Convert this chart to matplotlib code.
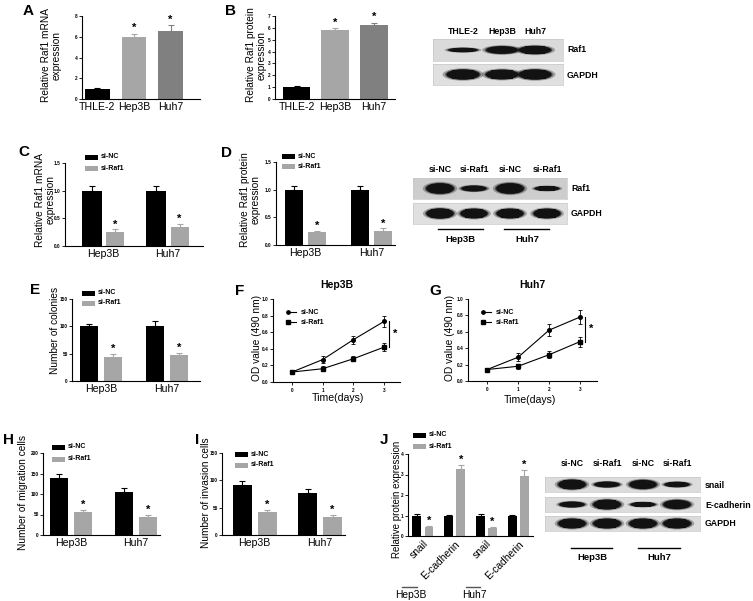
import matplotlib
matplotlib.use('Agg')
import matplotlib.pyplot as plt
from matplotlib.patches import Ellipse, Rectangle
from matplotlib.lines import Line2D
import numpy as np

plt.rcParams['font.family'] = ['Liberation Sans', 'DejaVu Sans']

# ---------------- data ----------------
a_cats = ['THLE-2', 'Hep3B', 'Huh7']
a_vals = [1.0, 5.95, 6.55]
a_errs = [0.08, 0.35, 0.55]
b_vals = [1.05, 5.8, 6.2]
b_errs = [0.05, 0.2, 0.25]

groups = ['Hep3B', 'Huh7']
series = ['si-NC', 'si-Raf1']

c_nc, c_nc_err = [1.0, 1.0], [0.08, 0.09]
c_raf, c_raf_err = [0.26, 0.35], [0.04, 0.05]
d_nc, d_nc_err = [1.0, 1.0], [0.06, 0.07]
d_raf, d_raf_err = [0.23, 0.26], [0.03, 0.04]
e_nc, e_nc_err = [100, 100], [5, 9]
e_raf, e_raf_err = [43, 47], [7, 5]

days = [0, 1, 2, 3]
f_nc, f_nc_err = [0.12, 0.27, 0.51, 0.73], [0.01, 0.04, 0.05, 0.07]
f_raf, f_raf_err = [0.12, 0.16, 0.28, 0.42], [0.01, 0.03, 0.03, 0.05]
g_nc, g_nc_err = [0.14, 0.29, 0.62, 0.78], [0.02, 0.05, 0.07, 0.08]
g_raf, g_raf_err = [0.14, 0.18, 0.32, 0.48], [0.02, 0.03, 0.04, 0.06]

h_nc, h_nc_err = [140, 105], [8, 9]
h_raf, h_raf_err = [55, 43], [6, 6]
i_nc, i_nc_err = [92, 76], [7, 8]
i_raf, i_raf_err = [42, 33], [4, 4]

j_cats = ['snail', 'E-cadherin', 'snail', 'E-cadherin']
j_nc, j_nc_err = [1.0, 1.0, 1.0, 1.0], [0.05, 0.04, 0.07, 0.03]
j_raf, j_raf_err = [0.45, 3.25, 0.4, 2.95], [0.03, 0.2, 0.03, 0.25]

# western blot band intensities (relative)
blotA_lanes = ['THLE-2', 'Hep3B', 'Huh7']
blotA_raf1 = [0.45, 0.8, 0.85]
blotA_gapdh = [0.95, 0.9, 0.95]
blotD_lanes = ['si-NC', 'si-Raf1', 'si-NC', 'si-Raf1']
blotD_raf1 = [1.0, 0.55, 1.0, 0.45]
blotD_gapdh = [0.95, 0.9, 0.9, 0.9]
blotJ_snail = [1.0, 0.6, 0.95, 0.55]
blotJ_ecad = [0.6, 1.0, 0.5, 0.95]
blotJ_gapdh = [1.0, 1.0, 1.0, 1.0]

BLACK = '#000000'
LGRAY = '#a6a6a6'
MGRAY = '#808080'

W, H = 753, 601
fig = plt.figure(figsize=(W / 100, H / 100), dpi=100)


def ax_px(x0, y0, x1, y1):
    return fig.add_axes([x0 / W, 1 - y1 / H, (x1 - x0) / W, (y1 - y0) / H])


def ftext(x, y, s, **kw):
    fig.text(x / W, 1 - y / H, s, **kw)


def fline(x0, x1, y0, y1, **kw):
    fig.add_artist(Line2D([x0 / W, x1 / W], [1 - y0 / H, 1 - y1 / H],
                          transform=fig.transFigure, **kw))


def style(ax, yticks, ylim, fmt=None):
    for s in ['top', 'right']:
        ax.spines[s].set_visible(False)
    for s in ['left', 'bottom']:
        ax.spines[s].set_linewidth(0.8)
    ax.set_ylim(*ylim)
    ax.set_yticks(yticks)
    if fmt:
        ax.set_yticklabels([fmt.format(v) for v in yticks])
    ax.tick_params(axis='y', labelsize=3.4, length=2, width=0.6, pad=1)
    ax.tick_params(axis='x', length=0, labelsize=7.6, pad=2)
    for t in ax.get_yticklabels():
        t.set_fontweight('bold')


def bars(ax, x, vals, errs, color, w, stars=False, fs=8, dy=0.0):
    ax.bar(x, vals, w, color=color, zorder=2)
    ax.errorbar(x, vals, yerr=[np.zeros(len(vals)), errs], fmt='none',
                ecolor=color, elinewidth=0.8, capsize=2, capthick=0.8, zorder=1)
    if stars:
        for xi, v, e in zip(x, vals, errs):
            ax.text(xi, v + e + dy, '*', ha='center', va='center',
                    fontsize=fs, fontweight='bold')


def bar_legend(x, y, dy, fs=5):
    for i, (lab, col) in enumerate(zip(series, [BLACK, LGRAY])):
        yy = y + i * dy
        fig.add_artist(Rectangle((x / W, 1 - (yy + 2.5) / H), 13 / W, 5 / H,
                                 transform=fig.transFigure, color=col, lw=0))
        ftext(x + 16, yy, lab, fontsize=fs, fontweight='bold', va='center')


def ylabel(text, xpx, ypx, fs=7.3):
    ftext(xpx, ypx, text, rotation=90, ha='center', va='center',
          fontsize=fs, multialignment='center', linespacing=1.05)


def letter(x, y, s):
    ftext(x, y, s, fontsize=11, fontweight='bold', ha='center', va='center')


def blot(x0, y0, x1, y1, lanes_x, intens, bg, bw=30, bh=9):
    ax = ax_px(x0, y0, x1, y1)
    ax.set_xlim(x0, x1)
    ax.set_ylim(y1, y0)
    ax.set_facecolor(bg)
    ax.set_xticks([])
    ax.set_yticks([])
    for s in ax.spines.values():
        s.set_color('#c8c8c8')
        s.set_linewidth(0.5)
    yc = (y0 + y1) / 2
    for lx, v in zip(lanes_x, intens):
        w = bw * (0.8 + 0.2 * v)
        h = bh * v
        for k, a in [(1.15, 0.3), (1.0, 0.6), (0.92, 1.0)]:
            ax.add_patch(Ellipse((lx, yc), w * k, h * k * 1.05,
                                 facecolor='#121212', alpha=a, lw=0))
        ax.add_patch(Rectangle((lx - w * 0.3, yc - h * 0.42), w * 0.6, h * 0.84,
                               facecolor='#121212', lw=0))
    return ax


# ---------------- A ----------------
ax = ax_px(82, 16, 200, 99)
x = np.arange(3)
ax.bar(x, a_vals, 0.68, color=[BLACK, LGRAY, MGRAY], zorder=2)
for xi, v, e, c in zip(x, a_vals, a_errs, [BLACK, LGRAY, MGRAY]):
    ax.errorbar([xi], [v], yerr=[[0], [e]], fmt='none', ecolor=c,
                elinewidth=0.8, capsize=2, capthick=0.8, zorder=1)
for xi in [1, 2]:
    ax.text(xi, a_vals[xi] + a_errs[xi] + 0.55, '*', ha='center', va='center',
            fontsize=8, fontweight='bold')
ax.set_xlim(-0.42, 2.8)
style(ax, [0, 2, 4, 6, 8], (0, 8))
ax.set_xticks(x)
ax.set_xticklabels(a_cats)
ylabel('Relative Raf1 mRNA\nexpression', 51, 55)
letter(28, 11, 'A')

# ---------------- B ----------------
ax = ax_px(275, 16, 395, 99)
ax.bar(x, b_vals, 0.72, color=[BLACK, LGRAY, MGRAY], zorder=2)
for xi, v, e, c in zip(x, b_vals, b_errs, [BLACK, LGRAY, MGRAY]):
    ax.errorbar([xi], [v], yerr=[[0], [e]], fmt='none', ecolor=c,
                elinewidth=0.8, capsize=2, capthick=0.8, zorder=1)
for xi in [1, 2]:
    ax.text(xi, b_vals[xi] + b_errs[xi] + 0.45, '*', ha='center', va='center',
            fontsize=8, fontweight='bold')
ax.set_xlim(-0.56, 2.55)
style(ax, list(range(8)), (0, 7))
ax.set_xticks(x)
ax.set_xticklabels(a_cats)
ylabel('Relative Raf1 protein\nexpression', 256, 55)
letter(231, 11, 'B')

# blot A
lanesA = [463, 502, 535]
for lx, lab in zip(lanesA, blotA_lanes):
    ftext(lx, 32, lab, fontsize=6.3, fontweight='bold', ha='center', va='center')
blot(433, 39, 563, 61, lanesA, blotA_raf1, '#dadada', bw=36, bh=10)
blot(433, 64, 563, 85, lanesA, blotA_gapdh, '#e0e0e0', bw=36, bh=11)
ftext(567, 50, 'Raf1', fontsize=6.3, fontweight='bold', va='center')
ftext(567, 75, 'GAPDH', fontsize=6.3, fontweight='bold', va='center')

# ---------------- C ----------------
xg = np.arange(2)
ax = ax_px(65, 163, 203, 246)
bars(ax, xg - 0.185, c_nc, c_nc_err, BLACK, 0.31)
bars(ax, xg + 0.185, c_raf, c_raf_err, LGRAY, 0.28, stars=True, dy=0.09)
ax.set_xlim(-0.6, 1.55)
style(ax, [0.0, 0.5, 1.0, 1.5], (0, 1.5), '{:.1f}')
ax.set_xticks(xg)
ax.set_xticklabels(groups)
bar_legend(85, 157, 11)
ylabel('Relative Raf1 mRNA\nexpression', 45, 200)
letter(24, 152, 'C')

# ---------------- D ----------------
ax = ax_px(276, 162, 395, 245)
bars(ax, xg - 0.175, d_nc, d_nc_err, BLACK, 0.27)
bars(ax, xg + 0.175, d_raf, d_raf_err, LGRAY, 0.27, stars=True, dy=0.09)
ax.set_xlim(-0.45, 1.36)
style(ax, [0.0, 0.5, 1.0, 1.5], (0, 1.5), '{:.1f}')
ax.set_xticks(xg)
ax.set_xticklabels(groups)
bar_legend(282, 156, 10)
ylabel('Relative Raf1 protein\nexpression', 250, 200)
letter(227, 153, 'D')

# blot D
lanesD = [440, 474, 510, 547]
for lx, lab in zip(lanesD, blotD_lanes):
    ftext(lx, 169, lab, fontsize=6.3, fontweight='bold', ha='center', va='center')
blot(413, 178, 567, 199, lanesD, blotD_raf1, '#cdcdcd', bw=30, bh=11)
blot(413, 203, 567, 224, lanesD, blotD_gapdh, '#e0e0e0', bw=30, bh=11)
ftext(571, 189, 'Raf1', fontsize=6.3, fontweight='bold', va='center')
ftext(571, 214, 'GAPDH', fontsize=6.3, fontweight='bold', va='center')
fline(438, 483, 229, 229, color='k', lw=1.0)
fline(504, 549, 229, 229, color='k', lw=1.0)
ftext(460, 240, 'Hep3B', fontsize=6.8, fontweight='bold', ha='center', va='center')
ftext(527, 240, 'Huh7', fontsize=6.8, fontweight='bold', ha='center', va='center')

# ---------------- E ----------------
ax = ax_px(72, 299, 200, 381)
bars(ax, xg - 0.185, e_nc, e_nc_err, BLACK, 0.28)
bars(ax, xg + 0.185, e_raf, e_raf_err, LGRAY, 0.28, stars=True, dy=9)
ax.set_xlim(-0.44, 1.5)
style(ax, [0, 50, 100, 150], (0, 150))
ax.set_xticks(xg)
ax.set_xticklabels(groups)
bar_legend(82, 293, 10)
ylabel('Number of colonies', 55, 330)
letter(35, 290, 'E')


# ---------------- F / G ----------------
def lineplot(ax, nc, nce, raf, rafe, title):
    ax.errorbar(days, nc, yerr=nce, color='k', marker='o', ms=2.6, lw=0.8,
                elinewidth=0.6, capsize=1.5, capthick=0.6)
    ax.errorbar(days, raf, yerr=rafe, color='k', marker='s', ms=2.6, lw=0.8,
                elinewidth=0.6, capsize=1.5, capthick=0.6)
    style(ax, [0, 0.2, 0.4, 0.6, 0.8, 1.0], (0, 1.0), '{:.1f}')
    ax.set_xticks(days)
    ax.tick_params(axis='x', length=2, width=0.6, labelsize=3.4, pad=2)
    for t in ax.get_xticklabels():
        t.set_fontweight('bold')
    ax.plot([3.16, 3.16], [raf[3], nc[3]], color='k', lw=0.8, clip_on=False)
    ax.text(3.35, (raf[3] + nc[3]) / 2, '*', fontsize=8, fontweight='bold',
            ha='center', va='center', clip_on=False)
    ax.set_title(title, fontsize=7.5, fontweight='bold', pad=8)


ax = ax_px(273, 299, 400, 382)
lineplot(ax, f_nc, f_nc_err, f_raf, f_raf_err, 'Hep3B')
ax.set_xlim(-0.62, 3.52)
ftext(338, 398, 'Time(days)', fontsize=7.6, ha='center', va='center')
ylabel('OD value (490 nm)', 257, 338)
letter(240, 291, 'F')

ax = ax_px(468, 299, 597, 381)
lineplot(ax, g_nc, g_nc_err, g_raf, g_raf_err, 'Huh7')
ax.set_xlim(-0.62, 3.55)
ftext(530, 400, 'Time(days)', fontsize=7.6, ha='center', va='center')
ylabel('OD value (490 nm)', 450, 338)
letter(435, 291, 'G')

for xl, yl in [(292, 312), (487, 312)]:
    for i, m in enumerate(['o', 's']):
        yy = yl + i * 10
        fig.add_artist(Line2D([(xl - 4) / W, (xl + 4) / W], [1 - yy / H, 1 - yy / H],
                              transform=fig.transFigure, color='k', lw=0.8,
                              marker=m, markevery=[0], ms=2.4))
        ftext(xl + 9, yy, series[i], fontsize=5, fontweight='bold', va='center')

# ---------------- H ----------------
ax = ax_px(43, 453, 160, 535)
bars(ax, xg - 0.19, h_nc, h_nc_err, BLACK, 0.28)
bars(ax, xg + 0.19, h_raf, h_raf_err, LGRAY, 0.28, stars=True, dy=12)
ax.set_xlim(-0.43, 1.37)
style(ax, [0, 50, 100, 150, 200], (0, 200))
ax.set_xticks(xg)
ax.set_xticklabels(groups)
bar_legend(52, 447, 12)
ylabel('Number of migration cells', 23, 493)
letter(9, 440, 'H')

# ---------------- I ----------------
ax = ax_px(222, 453, 345, 535)
bars(ax, xg - 0.19, i_nc, i_nc_err, BLACK, 0.29)
bars(ax, xg + 0.19, i_raf, i_raf_err, LGRAY, 0.29, stars=True, dy=9)
ax.set_xlim(-0.5, 1.38)
style(ax, [0, 50, 100, 150], (0, 150))
ax.set_xticks(xg)
ax.set_xticklabels(groups)
bar_legend(235, 454, 11)
ylabel('Number of invasion cells', 206, 493)
letter(197, 440, 'I')

# ---------------- J ----------------
xj = np.arange(4)
ax = ax_px(408, 454, 533, 536)
bars(ax, xj - 0.19, j_nc, j_nc_err, BLACK, 0.28)
bars(ax, xj + 0.19, j_raf, j_raf_err, LGRAY, 0.28, stars=True, dy=0.28)
ax.set_xlim(-0.47, 3.46)
style(ax, [0, 1, 2, 3, 4], (0, 4))
ax.set_xticks(xj)
ax.set_xticklabels(j_cats, rotation=45, ha='right', rotation_mode='anchor')
ax.tick_params(axis='x', labelsize=7.4, pad=2)
bar_legend(413, 435, 11)
ylabel('Relative protein expression', 397, 499, fs=7.0)
letter(384, 440, 'J')
fline(402, 417, 587, 587, color='#555555', lw=1.0)
fline(466, 480, 587, 587, color='#555555', lw=1.0)
ftext(411, 595, 'Hep3B', fontsize=7.4, ha='center', va='center')
ftext(474, 595, 'Huh7', fontsize=7.4, ha='center', va='center')

# blot J
lanesJ = [572, 607, 643, 677]
for lx, lab in zip(lanesJ, blotD_lanes):
    ftext(lx, 463, lab, fontsize=6.3, fontweight='bold', ha='center', va='center')
blot(545, 477, 700, 492, lanesJ, blotJ_snail, '#dcdcdc', bw=30, bh=10)
blot(545, 497, 700, 512, lanesJ, blotJ_ecad, '#dcdcdc', bw=30, bh=10)
blot(545, 516, 700, 531, lanesJ, blotJ_gapdh, '#dcdcdc', bw=30, bh=10)
ftext(705, 485, 'snail', fontsize=6.3, fontweight='bold', va='center')
ftext(705, 505, 'E-cadherin', fontsize=6.3, fontweight='bold', va='center')
ftext(705, 524, 'GAPDH', fontsize=6.3, fontweight='bold', va='center')
fline(571, 612, 548, 548, color='k', lw=1.0)
fline(638, 680, 548, 548, color='k', lw=1.0)
ftext(592, 558, 'Hep3B', fontsize=6.8, fontweight='bold', ha='center', va='center')
ftext(659, 558, 'Huh7', fontsize=6.8, fontweight='bold', ha='center', va='center')

fig.savefig('out.png', dpi=100)
